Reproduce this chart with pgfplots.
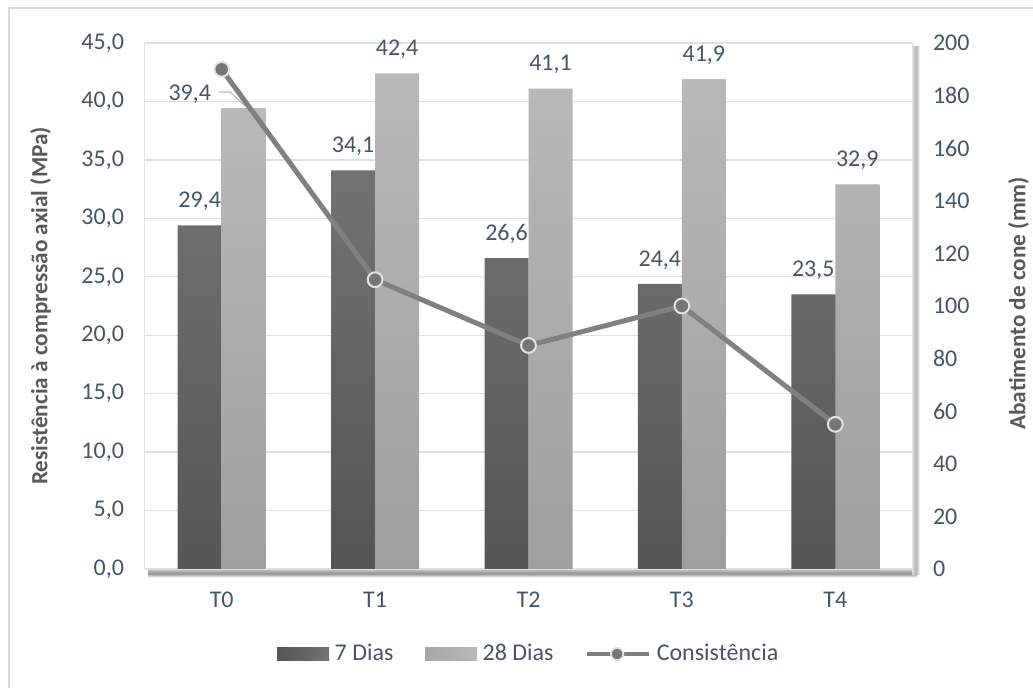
\documentclass[border=0pt]{standalone}
\usepackage{pgfplots}
\usepackage{pgfplotstable}
\pgfplotsset{compat=1.18}
\usepackage{fontspec}
\setmainfont{Carlito}

\definecolor{gridc}{HTML}{DCE1E8}
\definecolor{txt}{HTML}{44546A}
\definecolor{ttl}{HTML}{595959}
\definecolor{sevtop}{HTML}{727272}
\definecolor{sevbot}{HTML}{555555}
\definecolor{twetop}{HTML}{B9B9B9}
\definecolor{twebot}{HTML}{9E9E9E}
\definecolor{linec}{HTML}{808080}
\definecolor{ringc}{HTML}{E2E2E2}
\definecolor{leadc}{HTML}{AEBBCC}
\definecolor{framec}{HTML}{D9D9D9}
\definecolor{edgec}{HTML}{E3E3E3}

% compressive strength at 7 days (MPa)
\pgfplotstableread{
x y
0 29.4
1 34.1
2 26.6
3 24.4
4 23.5
}\sevendays
% compressive strength at 28 days (MPa)
\pgfplotstableread{
x y
0 39.4
1 42.4
2 41.1
3 41.9
4 32.9
}\twentyeight
% slump (mm)
\pgfplotstableread{
x y
0 190
1 110
2 85
3 100
4 55
}\slump

\newcommand{\lblfont}{\fontsize{12}{14}\selectfont}
\newcommand{\ttlfont}{\bfseries\fontsize{11.6}{13}\selectfont}

\pgfplotsset{
  base/.style={
    at={(0,0)}, anchor=south west, scale only axis,
    width=383.5pt, height=263pt,
    xmin=-0.5, xmax=4.5,
    axis line style={draw=none},
    major tick length=0pt,
    tick label style={font=\lblfont, text=txt},
    /pgf/number format/assume math mode=true,
    clip=false,
  }
}

\begin{document}
\begin{tikzpicture}
\useasboundingbox (-72.5pt,-59.5pt) rectangle (444pt,284.5pt);
% chart frame
\draw[framec, line width=0.8pt] (-68pt,-70pt) -- (-68pt,280.5pt) -- (460pt,280.5pt);
% plot area edges and soft shadow
\shade[top color=white!75!black, bottom color=white, middle color=white!58!black]
  (1.5pt,-0.3pt) rectangle (386pt,-4.3pt);
\shade[left color=white!85!black, right color=white, middle color=white!70!black]
  (383.7pt,-3pt) rectangle (387.5pt,261pt);
\draw[edgec, line width=0.5pt] (0pt,0pt) -- (0pt,263pt) -- (383.5pt,263pt) -- (383.5pt,0pt);
\draw[white!78!black, line width=0.8pt] (0pt,0pt) -- (383.5pt,0pt);

\begin{axis}[base,
  ymin=0, ymax=45, ytick={0,5,...,45},
  xtick={0,1,2,3,4}, xticklabels={T0,T1,T2,T3,T4},
  ymajorgrids, grid style={gridc, line width=0.7pt},
  yticklabel style={/pgf/number format/.cd, fixed, fixed zerofill, precision=1, use comma, /tikz/.cd, xshift=-7pt},
  xticklabel style={yshift=-8pt},
  ylabel={Resistência à compressão axial (MPa)},
  every axis y label/.style={at={(axis description cs:-0.136,0.5)}, anchor=center, rotate=90, font=\ttlfont, text=ttl},
  ybar, bar width=22pt,
  every node near coord/.append style={font=\lblfont, text=txt, /pgf/number format/.cd, fixed, fixed zerofill, precision=1, use comma, /tikz/.cd},
]
\addplot[ybar, bar shift=-11pt, draw=none, top color=sevtop, bottom color=sevbot,
  nodes near coords, every node near coord/.append style={anchor=south, yshift=3.8pt}]
  table[x=x, y=y] {\sevendays};
\addplot[ybar, bar shift=11pt, draw=none, top color=twetop, bottom color=twebot,
  restrict x to domain=0.5:5,
  nodes near coords, every node near coord/.append style={anchor=south, yshift=3.8pt}]
  table[x=x, y=y] {\twentyeight};
% the first 28-day label sits to the left, with a leader line
\addplot[ybar, bar shift=11pt, draw=none, top color=twetop, bottom color=twebot,
  restrict x to domain=-0.5:0.5,
  nodes near coords, every node near coord/.append style={anchor=east, xshift=-12.8pt, yshift=6.9pt}]
  table[x=x, y=y] {\twentyeight};
\draw[leadc, line width=0.6pt] (axis cs:-0.016,40.81) -- (axis cs:0.055,40.81) -- (axis cs:0.153,39.61);
\end{axis}

\begin{axis}[base,
  ymin=0, ymax=200, ytick={0,20,...,200},
  xtick=\empty,
  axis y line*=right,
  yticklabel style={xshift=7pt},
  ylabel={Abatimento de cone (mm)},
  every axis y label/.style={at={(axis description cs:1.139,0.505)}, anchor=center, rotate=90, font=\ttlfont, text=ttl},
  legend style={at={(axis description cs:0.5,-0.1616)}, anchor=center, draw=none, fill=none,
    font=\lblfont, text=txt, legend columns=3,
    nodes={inner sep=0.8pt},
    /tikz/every odd column/.append style={column sep=2pt},
    /tikz/every even column/.append style={column sep=15pt}},
]
\addlegendimage{legend image code/.code={\shade[draw=none, left color=sevbot, right color=sevtop] (0pt,-3.3pt) rectangle (26pt,3.3pt);}}
\addlegendentry{7 Dias}
\addlegendimage{legend image code/.code={\shade[draw=none, left color=twebot!70!twetop, right color=twetop] (0pt,-3.3pt) rectangle (26pt,3.3pt);}}
\addlegendentry{28 Dias}
\addplot[linec, line width=2.5pt, mark=*, mark size=3.7pt,
  mark options={fill=linec!92!black, draw=ringc, line width=1pt},
  legend image code/.code={
    \draw[linec, line width=2pt] (0pt,0pt) -- (31pt,0pt);
    \draw[ringc, fill=linec!92!black, line width=0.9pt] (15pt,0pt) circle (3.1pt);}]
  table[x=x, y=y] {\slump};
\addlegendentry{Consistência}
\end{axis}
\end{tikzpicture}
\end{document}
